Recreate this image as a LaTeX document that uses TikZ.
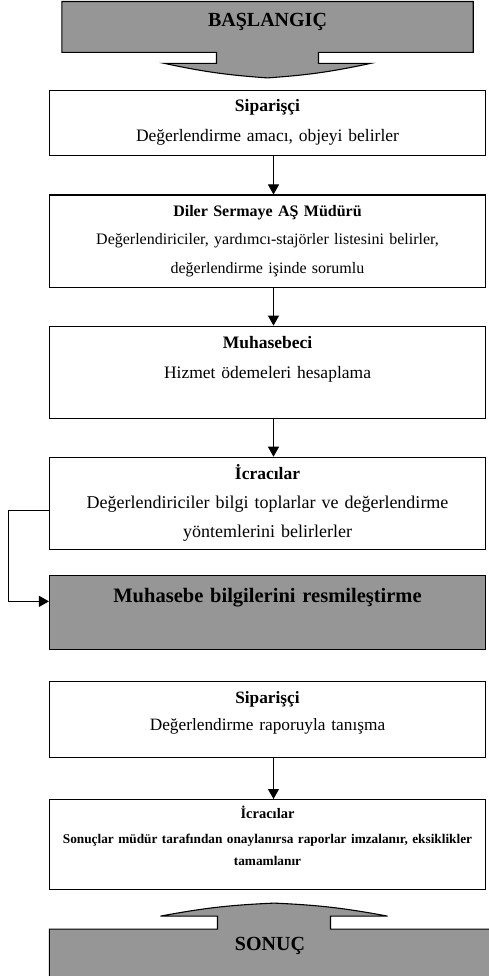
\documentclass[tikz,border=0pt]{standalone}
\usepackage{fontspec}
\setmainfont{Liberation Serif}
\usetikzlibrary{positioning, arrows.meta, backgrounds}
\definecolor{boxgray}{RGB}{150,150,150}
\tikzstyle{startstop} = [
    rectangle,
    inner sep=0pt,
    font=\fontsize{20}{24}\selectfont\bfseries
]
\tikzstyle{process} = [
    rectangle,
    text width=420pt,
    inner xsep=8pt,
    inner ysep=0pt,
    align=center,
    line width=1.1pt,
    draw=black
]
\tikzstyle{grayprocess} = [process, fill=boxgray]
\tikzstyle{blockarrow} = [line width=1.1pt, draw=black, fill=boxgray]
\tikzstyle{arrow} = [line width=1pt, -{Triangle[length=10pt,width=11pt]}]

\begin{document}
\begin{tikzpicture}[node distance=38pt]
\useasboundingbox (0,0) rectangle (489pt,-976pt);

\node (start) [startstop, minimum width=411pt, text height=24.5pt, text depth=26pt,
    anchor=north] at (267.5pt,-1.5pt) {BAŞLANGIÇ};

\node (siparisci1) [process, below=of start, text height=21pt, text depth=44pt,
    font=\fontsize{17.5}{30}\selectfont]
{\textbf{Siparişçi}\\Değerlendirme amacı, objeyi belirler};

\node (mudur) [process, below=of siparisci1, text height=21pt, text depth=71pt,
    font=\fontsize{16}{28.5}\selectfont]
{\textbf{Diler Sermaye AŞ Müdürü}\\Değerlendiriciler, yardımcı-stajörler listesini belirler,\\değerlendirme işinde sorumlu};

\node (muhasebeci) [process, below=of mudur, text height=22pt, text depth=70pt,
    font=\fontsize{17.5}{30}\selectfont]
{\textbf{Muhasebeci}\\Hizmet ödemeleri hesaplama};

\node (icracilar1) [process, below=of muhasebeci, text height=22pt, text depth=70pt,
    font=\fontsize{18}{29}\selectfont]
{{\fontsize{17.5}{29}\selectfont\bfseries İcracılar}\\Değerlendiriciler bilgi toplarlar ve değerlendirme\\yöntemlerini belirlerler};

\node (resmi) [grayprocess, below=25pt of icracilar1, text height=27pt, text depth=47pt,
    font=\fontsize{20.5}{24}\selectfont\bfseries]
{Muhasebe bilgilerini resmileştirme};

\node (siparisci2) [process, below=31pt of resmi, text height=22pt, text depth=54pt,
    font=\fontsize{17.3}{27}\selectfont]
{\textbf{Siparişçi}\\Değerlendirme raporuyla tanışma};

\node (icracilar2) [process, below=41pt of siparisci2, text height=19pt, text depth=71pt,
    font=\fontsize{13.3}{22}\selectfont\bfseries]
{{\fontsize{14.5}{22}\selectfont İcracılar}\\[3pt]Sonuçlar müdür tarafından onaylanırsa raporlar imzalanır, eksiklikler\\tamamlanır};

\node (stop) [startstop, minimum width=441pt, text height=21.5pt, text depth=31.5pt,
    below=39pt of icracilar2, xshift=2.5pt] {SONUÇ};

% block arrows behind the texts
\begin{scope}[on background layer]
\draw [blockarrow] (start.north west) -- (start.north east) -- (start.south east)
    -- ([xshift=51pt]start.south) -- ++(0,-11pt) -- ++(52pt,0)
    to[bend left=4] ([yshift=-25.5pt]start.south)
    to[bend left=4] ([xshift=-103pt,yshift=-11pt]start.south)
    -- ++(52pt,0) -- ([xshift=-51pt]start.south) -- (start.south west) -- cycle;
\draw [blockarrow] (stop.south west) -- (stop.south east) -- (stop.north east)
    -- ([xshift=60.5pt]stop.north) -- ++(0,13pt) -- ++(57pt,0)
    to[bend right=4] ([xshift=4pt,yshift=26pt]stop.north)
    to[bend right=4] ([xshift=-109.5pt,yshift=13pt]stop.north)
    -- ++(57pt,0) -- ([xshift=-52.5pt]stop.north) -- (stop.north west) -- cycle;
\end{scope}

\draw [arrow] ([xshift=6pt]siparisci1.south) -- ([xshift=6pt]mudur.north);
\draw [arrow] ([xshift=6pt]mudur.south) -- ([xshift=6pt]muhasebeci.north);
\draw [arrow] ([xshift=6pt]muhasebeci.south) -- ([xshift=6pt]icracilar1.north);
\draw [arrow] ([yshift=-7pt]icracilar1.west) -- ++(-40pt,0) |- ([yshift=11pt]resmi.west);
\draw [arrow] ([xshift=6pt]siparisci2.south) -- ([xshift=6pt]icracilar2.north);

\end{tikzpicture}
\end{document}
